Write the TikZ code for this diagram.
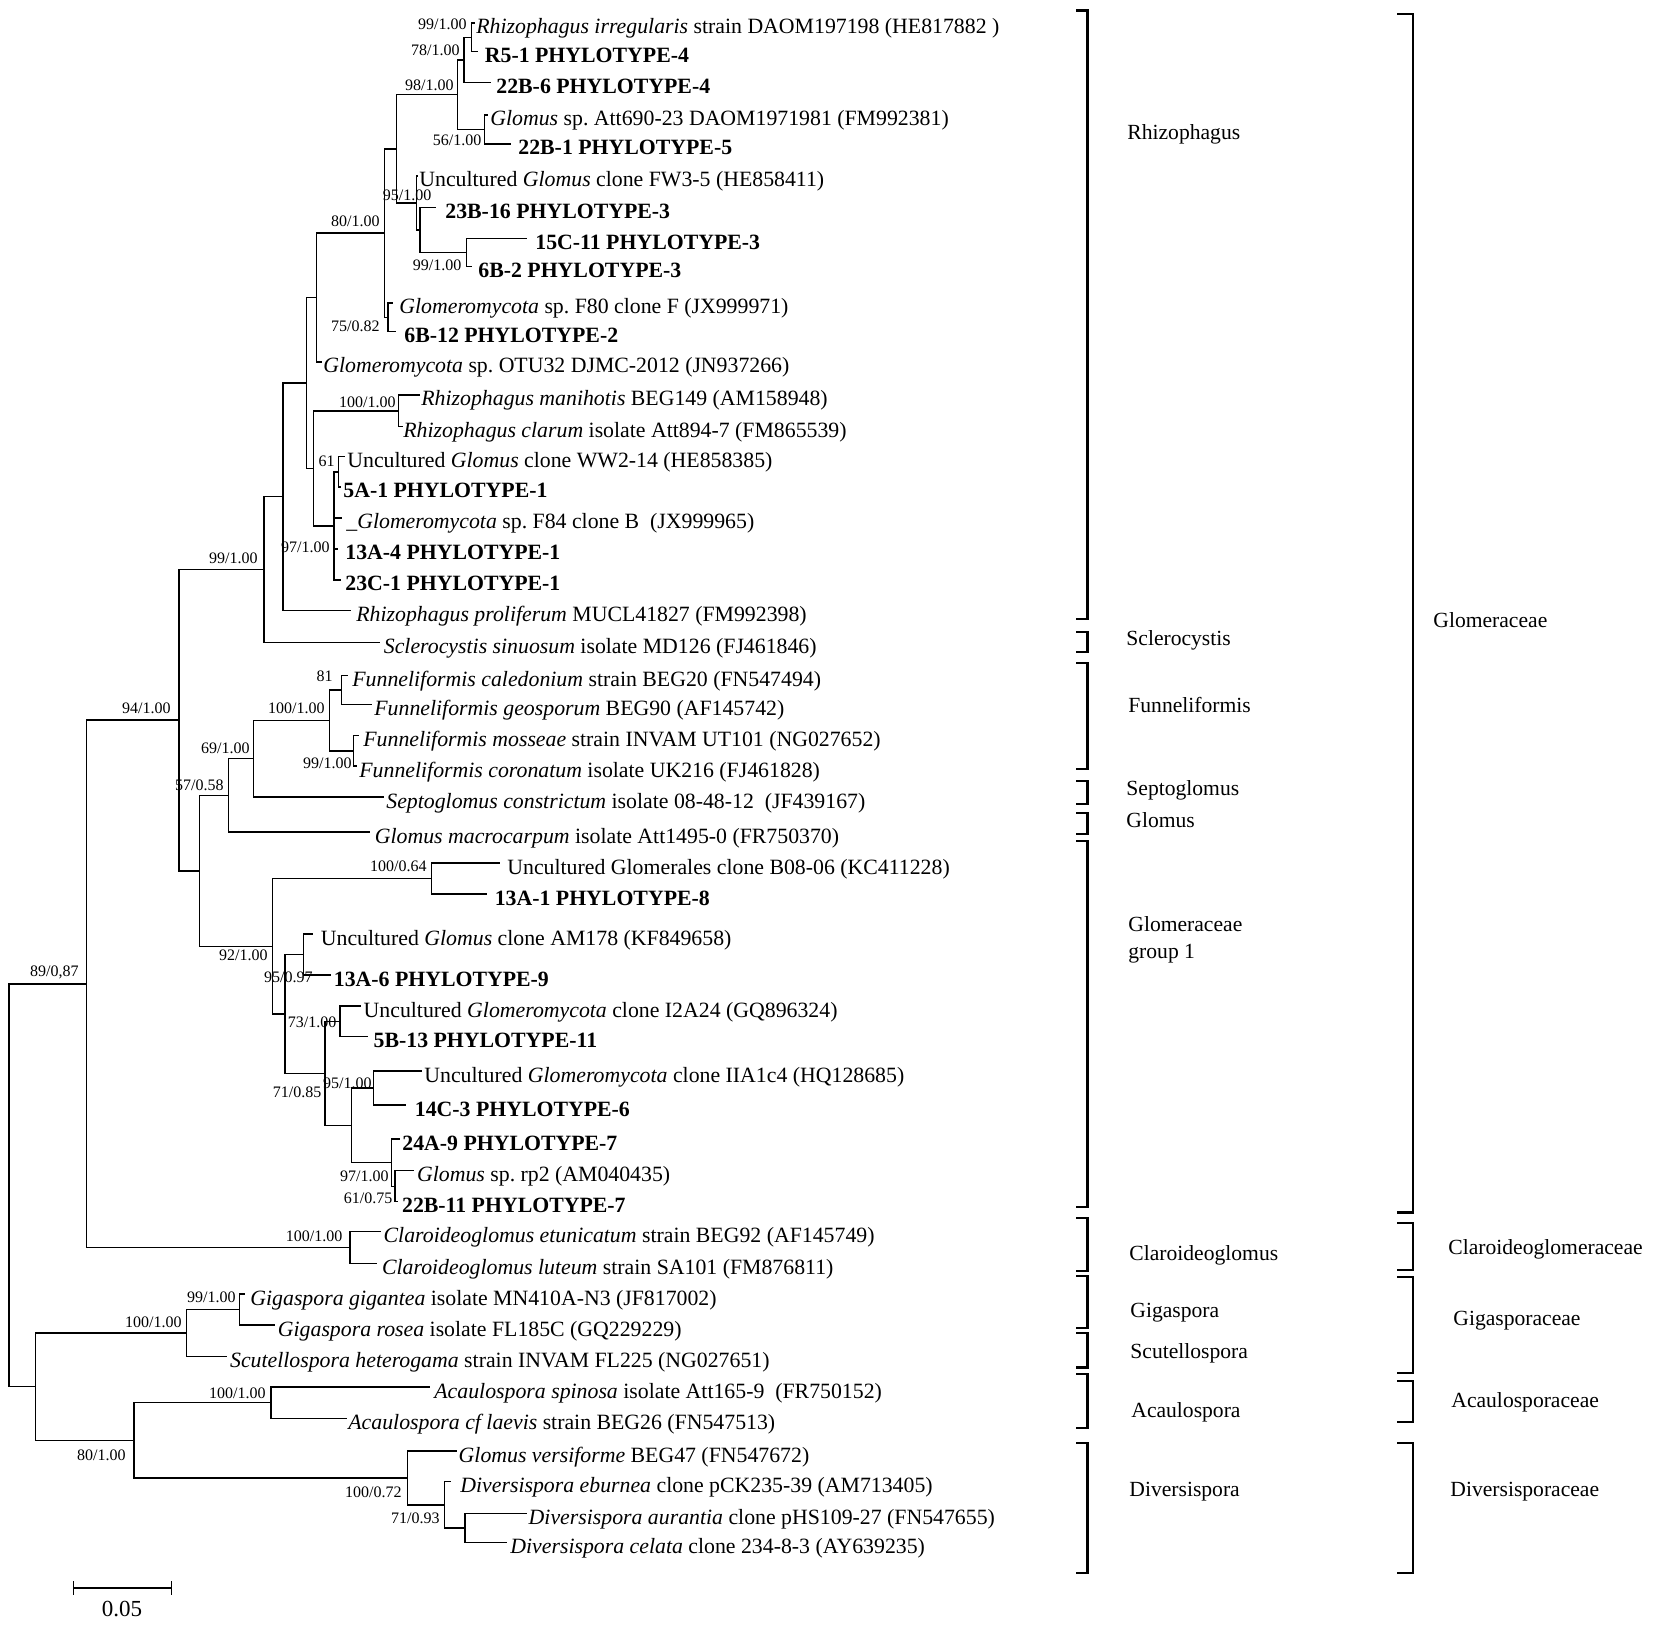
\documentclass[tikz,border=0pt]{standalone}
\usepackage{fontspec}
\setmainfont{Liberation Serif}
\frenchspacing
\newcommand{\myleaf}[5]{\coordinate (#1) at (#2,#4);\node[leaflab] (#1n) at (#3,#4) {#5};}
\newcommand{\mybrk}[5]{\coordinate (#1a) at (#2,#4);\coordinate (#1b) at (#3,#4);\coordinate (#1c) at (#3,#5);\coordinate (#1d) at (#2,#5);\draw[brk] (#1a) -- (#1b) -- (#1c) -- (#1d);}
\begin{document}
\begin{tikzpicture}[x=0.5pt,y=-0.5pt,
 br/.style={line width=0.7pt, line cap=rect},
 brk/.style={line width=1.2pt},
 leaflab/.style={anchor=base west, inner sep=0pt, yshift=-5.5pt, font=\fontsize{10.9}{13}\selectfont},
 bs/.style={anchor=east, inner sep=0pt, text height=5.3pt, text depth=0pt, font=\fontsize{8}{9}\selectfont},
 cl/.style={anchor=west, inner sep=0pt, text height=7.5pt, text depth=0pt, font=\fontsize{10.8}{13}\selectfont}]
\fill[white] (0,0) rectangle (1654,1625);
\useasboundingbox (0,0) rectangle (1654,1625);
% ---------------- leaves ----------------
\myleaf{t1}{474}{476}{23}{\textit{Rhizophagus irregularis} strain DAOM197198 (HE817882 )}
\myleaf{t2}{477}{484.5}{51.7}{\textbf{R5-1 PHYLOTYPE-4}}
\myleaf{t3}{490}{496}{82.7}{\textbf{22B-6 PHYLOTYPE-4}}
\myleaf{t4}{487}{490}{115}{\textit{Glomus} sp. Att690-23 DAOM1971981 (FM992381)}
\myleaf{t5}{510}{518}{144}{\textbf{22B-1 PHYLOTYPE-5}}
\myleaf{t6}{417}{419}{176}{Uncultured \textit{Glomus} clone FW3-5 (HE858411)}
\myleaf{t7}{435}{445}{207.3}{\textbf{23B-16 PHYLOTYPE-3}}
\myleaf{t8}{526.7}{535}{238.3}{\textbf{15C-11 PHYLOTYPE-3}}
\myleaf{t9}{471.7}{478}{266.7}{\textbf{6B-2 PHYLOTYPE-3}}
\myleaf{t10}{392}{399}{303}{\textit{Glomeromycota} sp. F80 clone F (JX999971)}
\myleaf{t11}{395}{404}{331.7}{\textbf{6B-12 PHYLOTYPE-2}}
\myleaf{t12}{321}{323}{362}{\textit{Glomeromycota} sp. OTU32 DJMC-2012 (JN937266)}
\myleaf{t13}{419}{421}{395}{\textit{Rhizophagus manihotis} BEG149 (AM158948)}
\myleaf{t14}{402}{403}{426.7}{\textit{Rhizophagus clarum} isolate Att894-7 (FM865539)}
\myleaf{t15}{344}{347}{456.7}{Uncultured \textit{Glomus} clone WW2-14 (HE858385)}
\myleaf{t16}{340}{343}{487}{\textbf{5A-1 PHYLOTYPE-1}}
\myleaf{t17}{341}{346}{518}{\_\textit{Glomeromycota} sp. F84 clone B\ \ (JX999965)}
\myleaf{t18}{337}{345}{549}{\textbf{13A-4 PHYLOTYPE-1}}
\myleaf{t19}{340}{345}{580}{\textbf{23C-1 PHYLOTYPE-1}}
\myleaf{t20}{350}{356}{610.5}{\textit{Rhizophagus proliferum} MUCL41827 (FM992398)}
\myleaf{t21}{379}{383.5}{642.5}{\textit{Sclerocystis sinuosum} isolate MD126 (FJ461846)}
\myleaf{t22}{347}{352}{675.7}{\textit{Funneliformis caledonium} strain BEG20 (FN547494)}
\myleaf{t23}{371.7}{374}{704.3}{\textit{Funneliformis geosporum} BEG90 (AF145742)}
\myleaf{t24}{358}{363}{735.7}{\textit{Funneliformis mosseae} strain INVAM UT101 (NG027652)}
\myleaf{t25}{356}{359}{766}{\textit{Funneliformis coronatum} isolate UK216 (FJ461828)}
\myleaf{t26}{383}{386}{797}{\textit{Septoglomus constrictum} isolate 08-48-12\ \ (JF439167)}
\myleaf{t27}{369}{374.5}{832}{\textit{Glomus macrocarpum} isolate Att1495-0 (FR750370)}
\myleaf{t28}{499.5}{507}{863}{Uncultured Glomerales clone B08-06 (KC411228)}
\myleaf{t29}{486.7}{494.4}{894}{\textbf{13A-1 PHYLOTYPE-8}}
\myleaf{t30}{312.5}{320.5}{934}{Uncultured \textit{Glomus} clone AM178 (KF849658)}
\myleaf{t31}{330.5}{333.5}{975}{\textbf{13A-6 PHYLOTYPE-9}}
\myleaf{t32}{360.5}{363.3}{1006}{Uncultured \textit{Glomeromycota} clone I2A24 (GQ896324)}
\myleaf{t33}{367}{373.3}{1036.5}{\textbf{5B-13 PHYLOTYPE-11}}
\myleaf{t34}{421}{424}{1071}{Uncultured \textit{Glomeromycota} clone IIA1c4 (HQ128685)}
\myleaf{t35}{405.5}{414.5}{1105}{\textbf{14C-3 PHYLOTYPE-6}}
\myleaf{t36}{399}{402}{1139}{\textbf{24A-9 PHYLOTYPE-7}}
\myleaf{t37}{413.3}{416.7}{1170.7}{\textit{Glomus} sp. rp2 (AM040435)}
\myleaf{t38}{397}{401.7}{1201.7}{\textbf{22B-11 PHYLOTYPE-7}}
\myleaf{t39}{380}{383.3}{1231.7}{\textit{Claroideoglomus etunicatum} strain BEG92 (AF145749)}
\myleaf{t40}{376.7}{381.7}{1263.3}{\textit{Claroideoglomus luteum} strain SA101 (FM876811)}
\myleaf{t41}{244}{250}{1294}{\textit{Gigaspora gigantea} isolate MN410A-N3 (JF817002)}
\myleaf{t42}{274}{277.5}{1325}{\textit{Gigaspora rosea} isolate FL185C (GQ229229)}
\myleaf{t43}{226.5}{229.7}{1356.7}{\textit{Scutellospora heterogama} strain INVAM FL225 (NG027651)}
\myleaf{t44}{429}{434}{1387}{\textit{Acaulospora spinosa} isolate Att165-9\ \ (FR750152)}
\myleaf{t45}{346}{348}{1418.3}{\textit{Acaulospora cf laevis} strain BEG26 (FN547513)}
\myleaf{t46}{456.7}{458.3}{1451}{\textit{Glomus versiforme} BEG47 (FN547672)}
\myleaf{t47}{450}{460}{1481.7}{\textit{Diversispora eburnea} clone pCK235-39 (AM713405)}
\myleaf{t48}{526.7}{528.3}{1513.3}{\textit{Diversispora aurantia} clone pHS109-27 (FN547655)}
\myleaf{t49}{506.7}{510}{1542.7}{\textit{Diversispora celata} clone 234-8-3 (AY639235)}
% ---------------- internal nodes ----------------
\coordinate (A) at (471.7,37.3);
\coordinate (B) at (464,60);
\coordinate (C) at (457.7,94.8);
\coordinate (D) at (484.3,129.5);
\coordinate (E) at (396.7,148.9);
\coordinate (F) at (416.7,203);
\coordinate (G) at (420,229.9);
\coordinate (H) at (466.7,252.5);
\coordinate (L) at (388,317.4);
\coordinate (I) at (384.5,233.1);
\coordinate (J) at (316.7,297.5);
\coordinate (N) at (398.7,410.9);
\coordinate (P) at (338.4,471.9);
\coordinate (O) at (334,526);
\coordinate (M) at (313.3,468.5);
\coordinate (K) at (306.7,383);
\coordinate (Q) at (283,496.8);
\coordinate (R) at (264,569.7);
\coordinate (V1) at (341.7,690);
\coordinate (V2) at (353.3,750.9);
\coordinate (V) at (329.3,720.4);
\coordinate (Vp) at (253.3,758.7);
\coordinate (Up) at (228.3,795.4);
\coordinate (Y) at (431.6,878.5);
\coordinate (AA) at (303.3,954.5);
\coordinate (CC) at (340,1021.2);
\coordinate (EE) at (373.3,1088);
\coordinate (GG) at (395,1186.2);
\coordinate (FF) at (391.7,1162.6);
\coordinate (DD) at (351.7,1125.3);
\coordinate (BB) at (325,1073.3);
\coordinate (Z) at (285,1013.9);
\coordinate (W) at (272.7,946.2);
\coordinate (T) at (199.3,870.8);
\coordinate (S) at (179,720.2);
\coordinate (HH) at (350,1247.5);
\coordinate (X) at (86.7,983.9);
\coordinate (KK) at (239.3,1309.5);
\coordinate (JJ) at (186.5,1333.1);
\coordinate (LL) at (271,1402.7);
\coordinate (PP) at (465,1528);
\coordinate (OO) at (444.3,1504.9);
\coordinate (NN) at (407.7,1478);
\coordinate (MM) at (134,1440.3);
\coordinate (II) at (35.5,1386.7);
\coordinate (Rt) at (9,1185.3);
% ---------------- branches ----------------
\draw[br] (A) |- (t1); \draw[br] (A) |- (t2);
\draw[br] (B) |- (A); \draw[br] (B) |- (t3);
\draw[br] (C) |- (B); \draw[br] (C) |- (D);
\draw[br] (D) |- (t4); \draw[br] (D) |- (t5);
\draw[br] (E) |- (C); \draw[br] (E) |- (F);
\draw[br] (F) |- (t6); \draw[br] (F) |- (G);
\draw[br] (G) |- (t7); \draw[br] (G) |- (H);
\draw[br] (H) |- (t8); \draw[br] (H) |- (t9);
\draw[br] (I) |- (E); \draw[br] (I) |- (L);
\draw[br] (L) |- (t10); \draw[br] (L) |- (t11);
\draw[br] (J) |- (I); \draw[br] (J) |- (t12);
\draw[br] (K) |- (J); \draw[br] (K) |- (M);
\draw[br] (M) |- (N); \draw[br] (M) |- (O);
\draw[br] (N) |- (t13); \draw[br] (N) |- (t14);
\draw[br] (O) |- (P); \draw[br] (O) |- (t17); \draw[br] (O) |- (t18); \draw[br] (O) |- (t19);
\draw[br] (P) |- (t15); \draw[br] (P) |- (t16);
\draw[br] (Q) |- (K); \draw[br] (Q) |- (t20);
\draw[br] (R) |- (Q); \draw[br] (R) |- (t21);
\draw[br] (S) |- (R); \draw[br] (S) |- (T);
\draw[br] (T) |- (Up); \draw[br] (T) |- (W);
\draw[br] (Up) |- (Vp); \draw[br] (Up) |- (t27);
\draw[br] (Vp) |- (V); \draw[br] (Vp) |- (t26);
\draw[br] (V) |- (V1); \draw[br] (V) |- (V2);
\draw[br] (V1) |- (t22); \draw[br] (V1) |- (t23);
\draw[br] (V2) |- (t24); \draw[br] (V2) |- (t25);
\draw[br] (W) |- (Y); \draw[br] (W) |- (Z);
\draw[br] (Y) |- (t28); \draw[br] (Y) |- (t29);
\draw[br] (Z) |- (AA); \draw[br] (Z) |- (BB);
\draw[br] (AA) |- (t30); \draw[br] (AA) |- (t31);
\draw[br] (BB) |- (CC); \draw[br] (BB) |- (DD);
\draw[br] (CC) |- (t32); \draw[br] (CC) |- (t33);
\draw[br] (DD) |- (EE); \draw[br] (DD) |- (FF);
\draw[br] (EE) |- (t34); \draw[br] (EE) |- (t35);
\draw[br] (FF) |- (t36); \draw[br] (FF) |- (GG);
\draw[br] (GG) |- (t37); \draw[br] (GG) |- (t38);
\draw[br] (X) |- (S); \draw[br] (X) |- (HH);
\draw[br] (HH) |- (t39); \draw[br] (HH) |- (t40);
\draw[br] (Rt) |- (X); \draw[br] (Rt) |- (II);
\draw[br] (II) |- (JJ); \draw[br] (II) |- (MM);
\draw[br] (JJ) |- (KK); \draw[br] (JJ) |- (t43);
\draw[br] (KK) |- (t41); \draw[br] (KK) |- (t42);
\draw[br] (MM) |- (LL); \draw[br] (MM) |- (NN);
\draw[br] (LL) |- (t44); \draw[br] (LL) |- (t45);
\draw[br] (NN) |- (t46); \draw[br] (NN) |- (OO);
\draw[br] (OO) |- (t47); \draw[br] (OO) |- (PP);
\draw[br] (PP) |- (t48); \draw[br] (PP) |- (t49);
% ---------------- support values ----------------
\node[bs] (sA) at (467,24) {99/1.00};
\node[bs] (sB) at (460,50) {78/1.00};
\node[bs] (sC) at (454,85) {98/1.00};
\node[bs] (sD) at (481.7,140) {56/1.00};
\node[bs] (sF) at (431.7,195) {95/1.00};
\node[bs] (sH) at (461.7,265) {99/1.00};
\node[bs] (sI) at (380,221.7) {80/1.00};
\node[bs] (sL) at (380,326.7) {75/0.82};
\node[bs] (sN) at (396,402) {100/1.00};
\node[bs] (sP) at (335,461.7) {61};
\node[bs] (sO) at (330,547) {97/1.00};
\node[bs] (sR) at (258,558) {99/1.00};
\node[bs] (sV1) at (333,676) {81};
\node[bs] (sV) at (325,708.6) {100/1.00};
\node[bs] (sV2) at (352,763) {99/1.00};
\node[bs] (sVp) at (250,748) {69/1.00};
\node[bs] (sUp) at (224,785) {57/0.58};
\node[bs] (sS) at (171,708) {94/1.00};
\node[bs] (sY) at (427,866) {100/0.64};
\node[bs] (sW) at (268,955) {92/1.00};
\node[bs] (sAA) at (313,977.5) {95/0.97};
\node[bs] (sCC) at (336.7,1022) {73/1.00};
\node[bs] (sBB) at (321.7,1091.8) {71/0.85};
\node[bs] (sEE) at (372,1083) {95/1.00};
\node[bs] (sFF) at (389,1176) {97/1.00};
\node[bs] (sGG) at (392.7,1198) {61/0.75};
\node[bs] (sHH) at (342.7,1236) {100/1.00};
\node[bs] (sX) at (79,971) {89/0,87};
\node[bs] (sKK) at (236,1297) {99/1.00};
\node[bs] (sJJ) at (182,1322) {100/1.00};
\node[bs] (sLL) at (266,1393) {100/1.00};
\node[bs] (sMM) at (126,1455) {80/1.00};
\node[bs] (sNN) at (402,1492) {100/0.72};
\node[bs] (sOO) at (440,1518) {71/0.93};
% ---------------- brackets ----------------
\mybrk{b1}{1076}{1087.6}{10.5}{619}
\mybrk{b2}{1076}{1087.6}{632}{652}
\mybrk{b3}{1076}{1087.6}{663}{769}
\mybrk{b4}{1076}{1087.6}{781}{804}
\mybrk{b5}{1076}{1087.6}{813}{834}
\mybrk{b6}{1076}{1087.6}{841}{1207}
\mybrk{b7}{1076}{1087.6}{1218}{1271}
\mybrk{b8}{1076}{1087.6}{1276}{1328}
\mybrk{b9}{1076}{1087.6}{1333}{1367.5}
\mybrk{b10}{1076}{1087.6}{1374}{1428}
\mybrk{b11}{1076}{1087.6}{1443}{1573}
\mybrk{c1}{1397}{1413}{14}{1212.5}
\mybrk{c2}{1397}{1413}{1223}{1270}
\mybrk{c3}{1397}{1413}{1277}{1373}
\mybrk{c4}{1397}{1413}{1381}{1422}
\mybrk{c5}{1397}{1413}{1443}{1573}
% ---------------- clade labels ----------------
\node[cl] (g1) at (1127,132) {Rhizophagus};
\node[cl] (g2) at (1126,638) {Sclerocystis};
\node[cl] (g3) at (1128,705) {Funneliformis};
\node[cl] (g4) at (1126,788) {Septoglomus};
\node[cl] (g5) at (1126,820) {Glomus};
\node[cl] (g6a) at (1128,924) {Glomeraceae};
\node[cl] (g6b) at (1128,951) {group 1};
\node[cl] (g7) at (1129,1253) {Claroideoglomus};
\node[cl] (g8) at (1130,1310) {Gigaspora};
\node[cl] (g9) at (1130,1351) {Scutellospora};
\node[cl] (g10) at (1131,1410) {Acaulospora};
\node[cl] (g11) at (1129,1489) {Diversispora};
\node[cl] (f1) at (1433,620) {Glomeraceae};
\node[cl] (f2) at (1448,1247) {Claroideoglomeraceae};
\node[cl] (f3) at (1453,1318) {Gigasporaceae};
\node[cl] (f4) at (1451,1400) {Acaulosporaceae};
\node[cl] (f5) at (1450,1489) {Diversisporaceae};
% ---------------- scale bar ----------------
\coordinate (sb1) at (73.3,1588);
\coordinate (sb2) at (171.7,1588);
\draw[br] (sb1) -- (sb2);
\draw[br] ([yshift=3pt]sb1) -- ([yshift=-3pt]sb1);
\draw[br] ([yshift=3pt]sb2) -- ([yshift=-3pt]sb2);
\node[cl, anchor=center, font=\fontsize{11.5}{13}\selectfont] (sbl) at (122,1609) {0.05};
\end{tikzpicture}
\end{document}
